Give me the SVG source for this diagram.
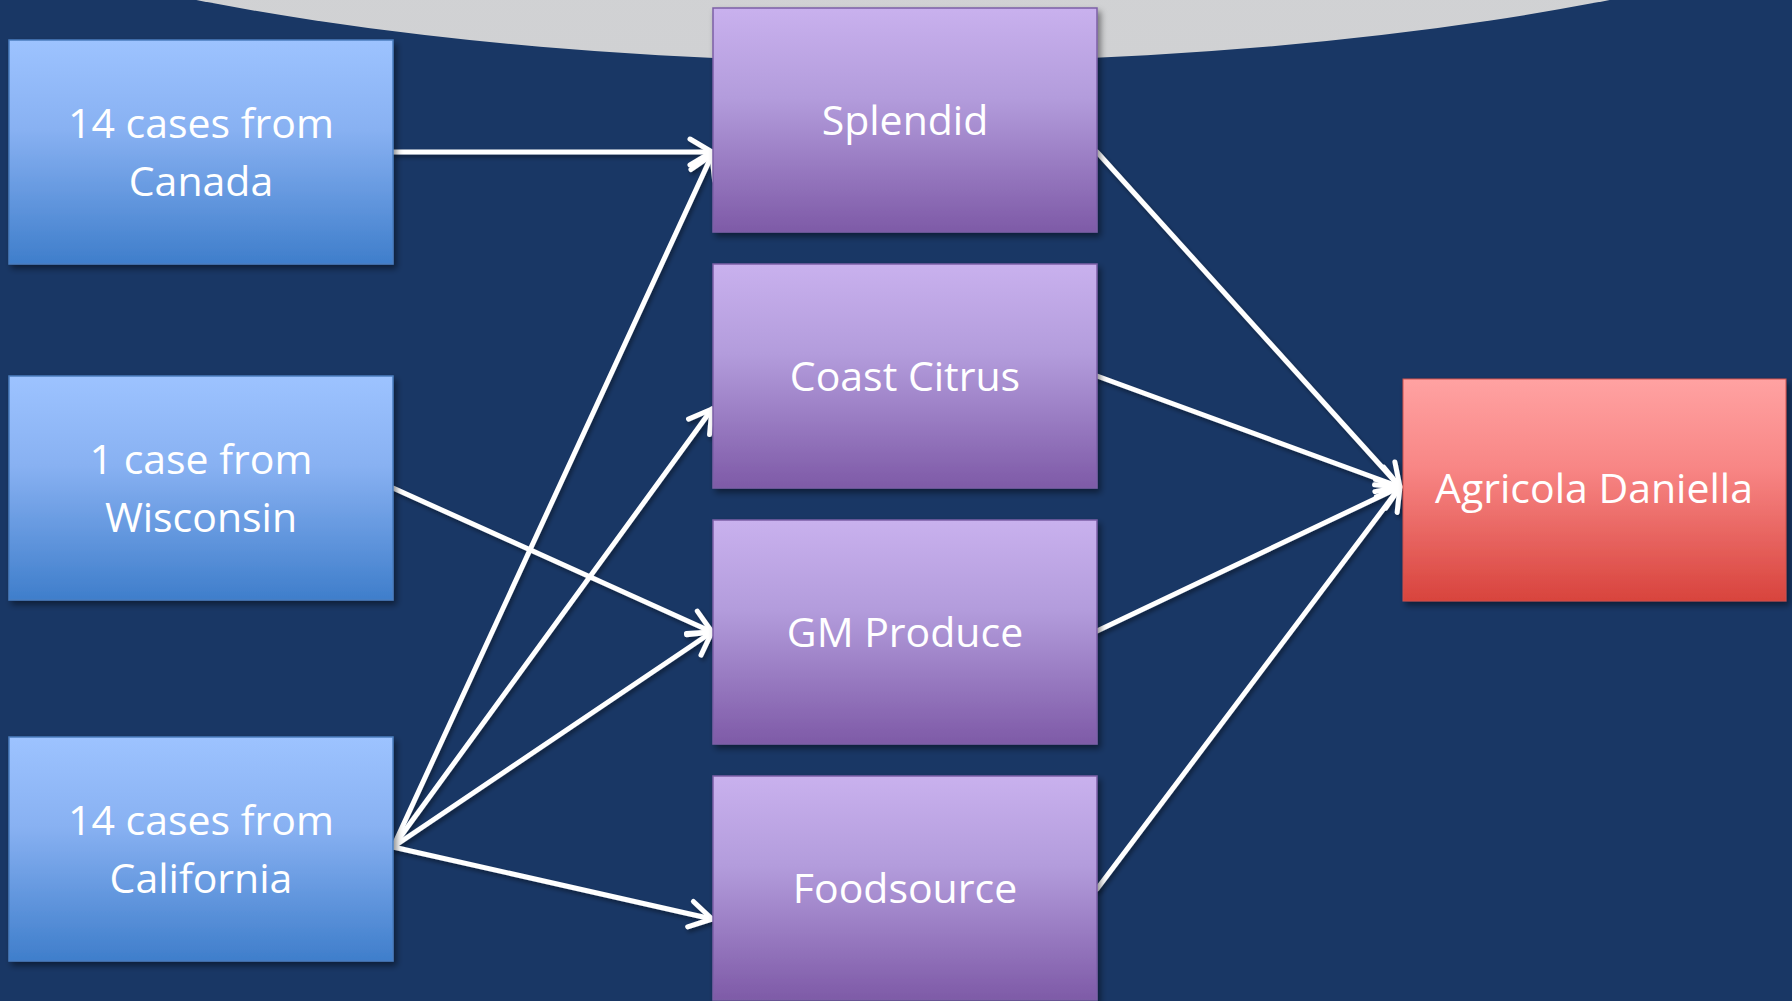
<svg xmlns="http://www.w3.org/2000/svg" width="1792" height="1001" viewBox="0 0 1792 1001">
  <defs>
    <linearGradient id="gBlue" x1="0" y1="0" x2="0" y2="1">
      <stop offset="0" stop-color="#9dc3ff"/>
      <stop offset="0.4" stop-color="#88b1f2"/>
      <stop offset="1" stop-color="#3f7ecb"/>
    </linearGradient>
    <linearGradient id="gPurple" x1="0" y1="0" x2="0" y2="1">
      <stop offset="0" stop-color="#c9b1ee"/>
      <stop offset="0.4" stop-color="#b39cdc"/>
      <stop offset="1" stop-color="#7e5aa7"/>
    </linearGradient>
    <linearGradient id="gRed" x1="0" y1="0" x2="0" y2="1">
      <stop offset="0" stop-color="#ffa2a2"/>
      <stop offset="0.4" stop-color="#f88685"/>
      <stop offset="1" stop-color="#d8443d"/>
    </linearGradient>
    <linearGradient id="gGray" x1="0" y1="0" x2="0" y2="1">
      <stop offset="0" stop-color="#d8d9db"/>
      <stop offset="1" stop-color="#d0d1d3"/>
    </linearGradient>
    <filter id="shadow" x="-10%" y="-10%" width="130%" height="130%">
      <feDropShadow dx="3" dy="4" stdDeviation="3" flood-color="#000" flood-opacity="0.45"/>
    </filter>
    <filter id="lshadow" x="-10%" y="-10%" width="130%" height="130%">
      <feDropShadow dx="2" dy="3" stdDeviation="2" flood-color="#000" flood-opacity="0.4"/>
    </filter>
    <marker id="arrow" markerUnits="userSpaceOnUse" markerWidth="40" markerHeight="40" viewBox="-30 -20 40 40" refX="0" refY="0" orient="auto">
      <path d="M -22 -13 L 0 0 L -22 13" fill="none" stroke="#ffffff" stroke-width="5" stroke-linecap="round" stroke-linejoin="round"/>
    </marker>
  </defs>
  <style>
    .blue { fill: url(#gBlue); stroke: #4a7ebf; stroke-width: 1.5; filter: url(#shadow); }
    .purple { fill: url(#gPurple); stroke: #7c5fa6; stroke-width: 1.5; filter: url(#shadow); }
    .red { fill: url(#gRed); stroke: #d0514b; stroke-width: 1; filter: url(#shadow); }
    .lbl { font-family: "Open Sans", "Liberation Sans", sans-serif; font-size: 41px; fill: #ffffff; text-anchor: middle; }
    .conn { fill: none; stroke: #ffffff; stroke-width: 5; stroke-linecap: round; marker-end: url(#arrow); }
  </style>

  <rect x="0" y="0" width="1792" height="1001" fill="#193765"/>
  <ellipse cx="903" cy="-292" rx="1250" ry="354" fill="url(#gGray)"/>

  <g id="connectors" filter="url(#lshadow)">
    <line class="conn" x1="393" y1="152" x2="712" y2="152"/>
    <line class="conn" x1="393" y1="488" x2="712" y2="632"/>
    <line class="conn" x1="393" y1="847" x2="712" y2="155"/>
    <line class="conn" x1="393" y1="847" x2="712" y2="409"/>
    <line class="conn" x1="393" y1="847" x2="712" y2="632"/>
    <line class="conn" x1="393" y1="847" x2="712" y2="919"/>
    <line class="conn" x1="1097" y1="152" x2="1400" y2="487"/>
    <line class="conn" x1="1097" y1="376" x2="1400" y2="487"/>
    <line class="conn" x1="1097" y1="631" x2="1400" y2="487"/>
    <line class="conn" x1="1097" y1="889" x2="1400" y2="487"/>
  </g>

  <g id="canada">
    <rect class="blue" x="9" y="40" width="384" height="224"/>
    <text class="lbl" x="201" y="138">14 cases from</text>
    <text class="lbl" x="201" y="196">Canada</text>
  </g>
  <g id="wisconsin">
    <rect class="blue" x="9" y="376" width="384" height="224"/>
    <text class="lbl" x="201" y="474">1 case from</text>
    <text class="lbl" x="201" y="532">Wisconsin</text>
  </g>
  <g id="california">
    <rect class="blue" x="9" y="737" width="384" height="224"/>
    <text class="lbl" x="201" y="835">14 cases from</text>
    <text class="lbl" x="201" y="893">California</text>
  </g>

  <g id="splendid">
    <rect class="purple" x="713" y="8" width="384" height="224"/>
    <text class="lbl" x="905" y="135">Splendid</text>
  </g>
  <g id="coast-citrus">
    <rect class="purple" x="713" y="264" width="384" height="224"/>
    <text class="lbl" x="905" y="391">Coast Citrus</text>
  </g>
  <g id="gm-produce">
    <rect class="purple" x="713" y="520" width="384" height="224"/>
    <text class="lbl" x="905" y="647">GM Produce</text>
  </g>
  <g id="foodsource">
    <rect class="purple" x="713" y="776" width="384" height="224"/>
    <text class="lbl" x="905" y="903">Foodsource</text>
  </g>

  <g id="agricola-daniella">
    <rect class="red" x="1403" y="379" width="383" height="222"/>
    <text class="lbl" x="1594" y="503">Agricola Daniella</text>
  </g>
</svg>
